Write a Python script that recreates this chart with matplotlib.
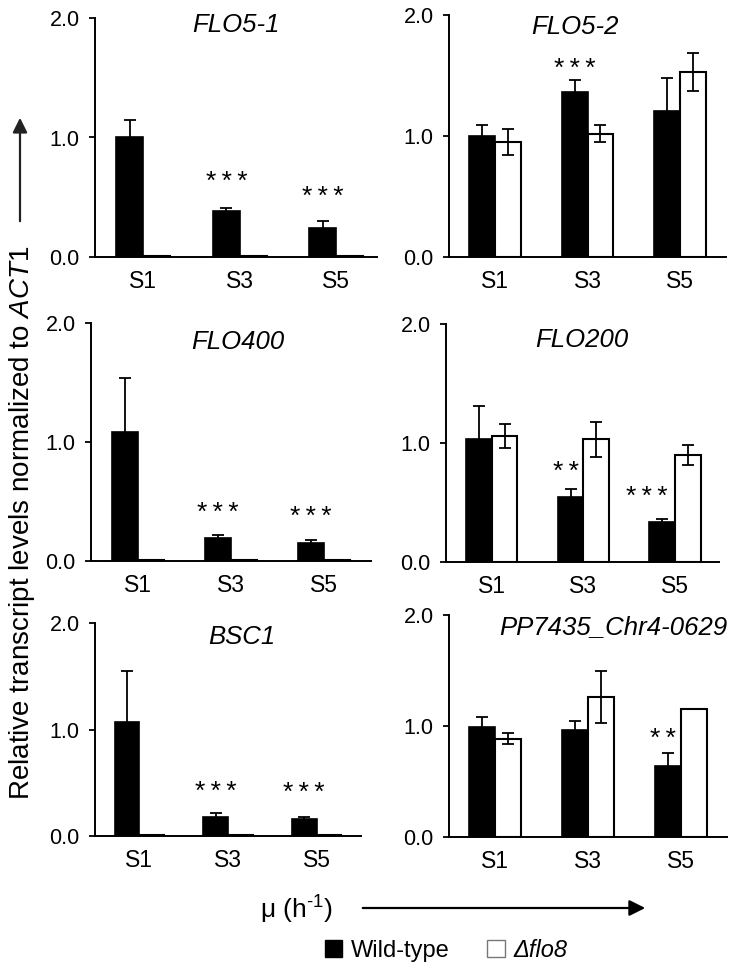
import numpy as np
import matplotlib
matplotlib.use("Agg")
import matplotlib.pyplot as plt
from matplotlib.patches import Patch, FancyArrowPatch

plt.rcParams["font.family"] = ["Liberation Sans", "DejaVu Sans"]
plt.rcParams["mathtext.fontset"] = "custom"
plt.rcParams["mathtext.rm"] = "Liberation Sans"
plt.rcParams["mathtext.it"] = "Liberation Sans:italic"

# data
samples = ["S1", "S3", "S5"]
genes = ["FLO5-1", "FLO5-2", "FLO400", "FLO200", "BSC1", "PP7435_Chr4-0629"]

wt_mean = [
    [1.00, 0.385, 0.24],
    [1.00, 1.36, 1.21],
    [1.08, 0.19, 0.155],
    [1.03, 0.545, 0.333],
    [1.075, 0.18, 0.157],
    [0.99, 0.96, 0.638],
]
wt_err = [
    [0.15, 0.025, 0.06],
    [0.09, 0.10, 0.27],
    [0.46, 0.025, 0.022],
    [0.28, 0.07, 0.03],
    [0.47, 0.04, 0.025],
    [0.095, 0.085, 0.123],
]
flo8_mean = [
    [0.01, 0.01, 0.01],
    [0.95, 1.02, 1.53],
    [0.005, 0.005, 0.005],
    [1.06, 1.03, 0.90],
    [0.005, 0.005, 0.005],
    [0.887, 1.26, 1.15],
]
flo8_err = [
    [0, 0, 0],
    [0.11, 0.07, 0.16],
    [0, 0, 0],
    [0.10, 0.15, 0.085],
    [0, 0, 0],
    [0.05, 0.235, 0],
]
# (panel, sample index, y, label, x shift)
stars = [
    (0, 1, 0.67, "***", 0), (0, 2, 0.54, "***", 0),
    (1, 1, 1.59, "***", 0),
    (2, 1, 0.44, "***", 0), (2, 2, 0.41, "***", 0),
    (3, 1, 0.80, "**", -0.05), (3, 2, 0.59, "***", -0.17),
    (4, 1, 0.46, "***", 0), (4, 2, 0.45, "***", 0),
    (5, 2, 0.93, "**", -0.05),
]

W, H = 747, 971
# axes boxes in pixels: left, top, right, bottom, xmax
boxes = [
    (95, 18, 377, 257, 2.42),
    (449, 15, 726, 257, 2.5),
    (91, 323, 371, 561, 2.5),
    (446, 324, 719, 562, 2.48),
    (95, 623, 361, 836, 2.5),
    (449, 615, 727, 837, 2.5),
]
title_pos = [(236, 25), (575, 27), (238, 342), (582, 340), (242, 637), (613, 627)]

fig = plt.figure(figsize=(W / 100, H / 100), dpi=100)
bw = 0.28
x = np.arange(len(samples))

for i, g in enumerate(genes):
    l, t, r, b, xmax = boxes[i]
    ax = fig.add_axes([l / W, 1 - b / H, (r - l) / W, (b - t) / H])
    ax.bar(x - bw / 2, wt_mean[i], bw, color="black", edgecolor="black", lw=1.2)
    ax.bar(x + bw / 2, flo8_mean[i], bw, color="white", edgecolor="black", lw=1.5)
    ax.errorbar(x - bw / 2, wt_mean[i], yerr=wt_err[i], fmt="none", ecolor="black",
                elinewidth=1.3, capsize=4, capthick=1.3, zorder=3)
    ax.errorbar(x + bw / 2, flo8_mean[i], yerr=flo8_err[i], fmt="none", ecolor="black",
                elinewidth=1.3, capsize=4, capthick=1.3, zorder=3)
    ax.set_xlim(-0.5, xmax)
    ax.set_ylim(0, 2)
    ax.set_yticks([0, 1, 2])
    ax.set_yticklabels(["0.0", "1.0", "2.0"], fontsize=15.5)
    ax.set_xticks(x)
    ax.set_xticklabels(samples, fontsize=16.5)
    ax.tick_params(axis="x", length=0, pad=9)
    ax.tick_params(axis="y", length=4, width=1.3, pad=7)
    for s in ["top", "right"]:
        ax.spines[s].set_visible(False)
    for s in ["left", "bottom"]:
        ax.spines[s].set_linewidth(1.4)
    for p, k, yy, lab, dx in stars:
        if p == i:
            ax.annotate("\u2009".join(lab), (k - bw / 2 + dx, yy), xytext=(0, -8.5),
                        textcoords="offset points", ha="center", va="baseline", fontsize=19)
    tx, ty = title_pos[i]
    fig.text(tx / W, 1 - ty / H, g, ha="center", va="center", fontsize=18.5, style="italic")

# y label with arrow
fig.text(22 / W, 1 - 523 / H, r"Relative transcript levels normalized to $\mathit{ACT1}$",
         rotation=90, ha="center", va="center", fontsize=20)
fig.add_artist(FancyArrowPatch((20 / W, 1 - 224 / H), (20 / W, 1 - 115 / H),
                               transform=fig.transFigure, arrowstyle="-|>",
                               mutation_scale=22, lw=1.6, color="#222222"))

# x label with arrow
fig.text(296 / W, 1 - 910 / H, r"μ (h$^{\text{-1}}$)", ha="center", va="center", fontsize=19)
fig.add_artist(FancyArrowPatch((360 / W, 1 - 908 / H), (648 / W, 1 - 908 / H),
                               transform=fig.transFigure, arrowstyle="-|>",
                               mutation_scale=24, lw=1.6, color="black"))

handles = [Patch(facecolor="black", edgecolor="black"),
           Patch(facecolor="white", edgecolor="#777777", lw=1)]
leg = fig.legend(handles, ["Wild-type", "Δflo8"], loc="center", ncol=2,
                 bbox_to_anchor=(446 / W, 1 - 950 / H), frameon=False, fontsize=17,
                 handlelength=0.75, handleheight=0.75, handletextpad=0.35,
                 columnspacing=1.6, borderpad=0)
leg.get_texts()[1].set_fontstyle("italic")

fig.savefig("out.png", dpi=100)
